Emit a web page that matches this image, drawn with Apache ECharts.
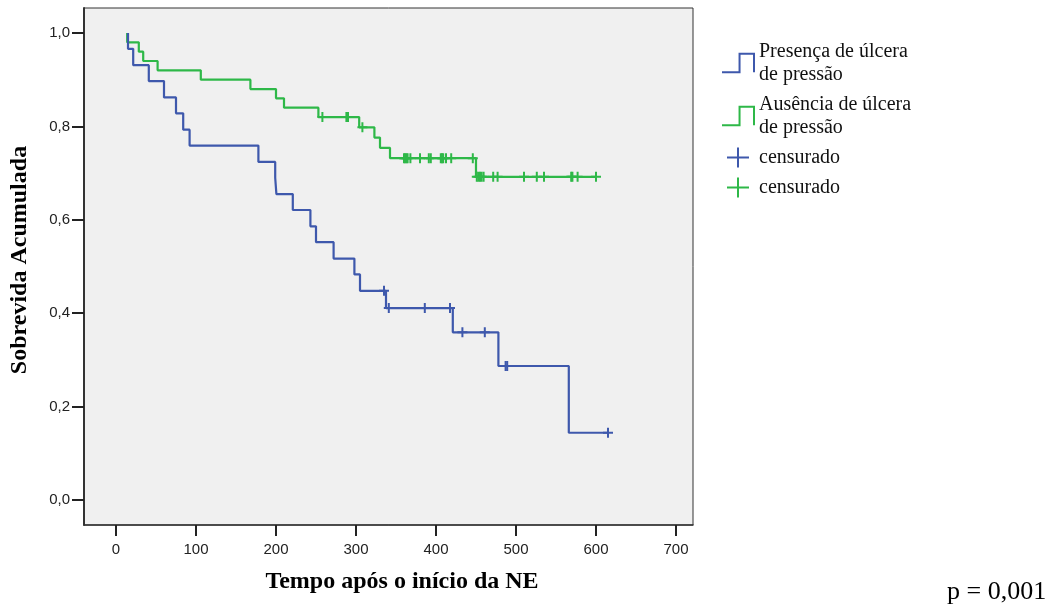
<!DOCTYPE html>
<html>
<head>
<meta charset="utf-8">
<script src="https://cdn.jsdelivr.net/npm/echarts@6/dist/echarts.min.js"></script>
<style>
html,body{margin:0;padding:0;background:#fff;}
#chart{width:1056px;height:605px;}
</style>
</head>
<body>
<div id="chart"></div>
<script>
// Tick labels
const xTicks = [0, 100, 200, 300, 400, 500, 600, 700];
const yTicks = [0, 0.2, 0.4, 0.6, 0.8, 1.0];

// Presença de úlcera de pressão (step curve: time, survival after event)
const presencaTimes = [15, 15, 21.5, 41, 60, 75, 84, 92, 178, 199, 200.5, 221, 243, 250, 272, 298, 305, 337.5, 421, 478, 566, 615];
const presencaSurv  = [1.0, 0.966, 0.931, 0.897, 0.862, 0.828, 0.793, 0.759, 0.724, 0.690, 0.655, 0.621, 0.586, 0.552, 0.517, 0.483, 0.448, 0.411, 0.359, 0.287, 0.144, 0.144];

// Ausência de úlcera de pressão
const ausenciaTimes = [14, 14, 28.5, 34, 52, 106, 168, 200, 210, 253, 304, 323, 330, 342.5, 450, 600];
const ausenciaSurv  = [1.0, 0.98, 0.96, 0.94, 0.92, 0.90, 0.88, 0.86, 0.84, 0.82, 0.798, 0.776, 0.754, 0.732, 0.692, 0.692];

// Censored observations
const presencaCensTimes = [335, 341, 386, 417.5, 433, 461, 487, 489, 615];
const presencaCensSurv  = [0.448, 0.411, 0.411, 0.411, 0.359, 0.359, 0.287, 0.287, 0.144];

const ausenciaCensTimes = [258, 288, 290, 308, 360, 361.5, 363, 364.5, 368, 380, 391, 393.5, 406, 407.5, 409, 412.5, 419, 446, 451, 453, 455, 457, 459.5, 471.5, 477, 510, 526, 535, 569, 570.5, 577, 600];
const ausenciaCensSurv  = [0.82, 0.82, 0.82, 0.798, 0.732, 0.732, 0.732, 0.732, 0.732, 0.732, 0.732, 0.732, 0.732, 0.732, 0.732, 0.732, 0.732, 0.732, 0.692, 0.692, 0.692, 0.692, 0.692, 0.692, 0.692, 0.692, 0.692, 0.692, 0.692, 0.692, 0.692, 0.692];

const BLUE = '#3E58AC';
const GREEN = '#2EB848';

const zip = (a, b) => a.map((v, i) => [v, b[i]]);

const stepIcon = 'path://M0,19H17V1H31V19';
const plusIcon = 'path://M0,0L0,0M32,20L32,20M16,0V20M5,10H27';
const plusSymbol = 'path://M5,0V10M0,5H10';

const chart = echarts.init(document.getElementById('chart'), null, {renderer: 'canvas'});
chart.setOption({
  animation: false,
  backgroundColor: '#ffffff',
  grid: {
    left: 84, top: 8, right: 363, bottom: 80,
    show: true, backgroundColor: '#f0f0f0', borderColor: '#333', borderWidth: 1
  },
  xAxis: {
    type: 'value', min: -40, max: 721.25,
    splitLine: {show: false},
    axisLine: {show: true, onZero: false, lineStyle: {color: '#333', width: 1.5}},
    axisTick: {show: true, inside: false, length: 11, customValues: xTicks, lineStyle: {color: '#222', width: 2}},
    axisLabel: {customValues: xTicks, margin: 17, color: '#222', fontFamily: 'Liberation Sans', fontSize: 15},
    name: 'Tempo após o início da NE',
    nameLocation: 'middle', nameGap: 45,
    nameTextStyle: {fontFamily: 'Liberation Serif', fontWeight: 'bold', fontSize: 24, color: '#000', padding: [0, 0, 0, 27]}
  },
  yAxis: {
    type: 'value', min: -0.0535, max: 1.0535,
    splitLine: {show: false},
    axisLine: {show: true, onZero: false, lineStyle: {color: '#333', width: 2}},
    axisTick: {show: true, inside: false, length: 12, customValues: yTicks, lineStyle: {color: '#222', width: 2}},
    axisLabel: {customValues: yTicks, margin: 14, color: '#222', fontFamily: 'Liberation Sans', fontSize: 15,
      formatter: v => v.toFixed(1).replace('.', ',')},
    name: 'Sobrevida Acumulada',
    nameLocation: 'middle', nameGap: 52,
    nameTextStyle: {fontFamily: 'Liberation Serif', fontWeight: 'bold', fontSize: 24, color: '#000', padding: [0, 0, 0, 13]}
  },
  legend: {
    orient: 'vertical', left: 721, top: 40, padding: 0, itemGap: 7,
    itemWidth: 32, itemHeight: 20,
    itemStyle: {color: 'transparent', borderWidth: 2, borderColor: 'inherit'},
    textStyle: {fontFamily: 'Liberation Serif', fontSize: 20, lineHeight: 23, color: '#111'},
    formatter: name => name.indexOf('censurado') === 0 ? 'censurado' : name,
    selectedMode: false,
    data: [
      {name: 'Presença de úlcera\nde pressão', icon: stepIcon,
        itemStyle: {color: 'transparent', borderColor: BLUE, borderWidth: 2}},
      {name: 'Ausência de úlcera\nde pressão', icon: stepIcon,
        itemStyle: {color: 'transparent', borderColor: GREEN, borderWidth: 2}},
      {name: 'censurado_p', icon: plusIcon,
        itemStyle: {color: 'transparent', borderColor: BLUE, borderWidth: 2}},
      {name: 'censurado_a', icon: plusIcon,
        itemStyle: {color: 'transparent', borderColor: GREEN, borderWidth: 2}}
    ]
  },
  graphic: [{
    type: 'text', left: 947, top: 579,
    style: {text: 'p = 0,001', fontFamily: 'Liberation Serif', fontSize: 26, fill: '#000'}
  }],
  series: [
    {
      name: 'Ausência de úlcera\nde pressão', type: 'line', step: 'end', symbol: 'none',
      data: zip(ausenciaTimes, ausenciaSurv), color: GREEN,
      lineStyle: {color: GREEN, width: 2.2}, silent: true, emphasis: {disabled: true}
    },
    {
      name: 'Presença de úlcera\nde pressão', type: 'line', step: 'end', symbol: 'none',
      data: zip(presencaTimes, presencaSurv), color: BLUE,
      lineStyle: {color: BLUE, width: 2.2}, silent: true, emphasis: {disabled: true}
    },
    {
      name: 'censurado_p', type: 'scatter', symbol: plusSymbol, symbolSize: 10,
      data: zip(presencaCensTimes, presencaCensSurv),
      itemStyle: {color: 'transparent', borderColor: BLUE, borderWidth: 2, opacity: 1},
      silent: true, emphasis: {disabled: true}
    },
    {
      name: 'censurado_a', type: 'scatter', symbol: plusSymbol, symbolSize: 10,
      data: zip(ausenciaCensTimes, ausenciaCensSurv),
      itemStyle: {color: 'transparent', borderColor: GREEN, borderWidth: 2, opacity: 1},
      silent: true, emphasis: {disabled: true}
    }
  ]
});
</script>
</body>
</html>
